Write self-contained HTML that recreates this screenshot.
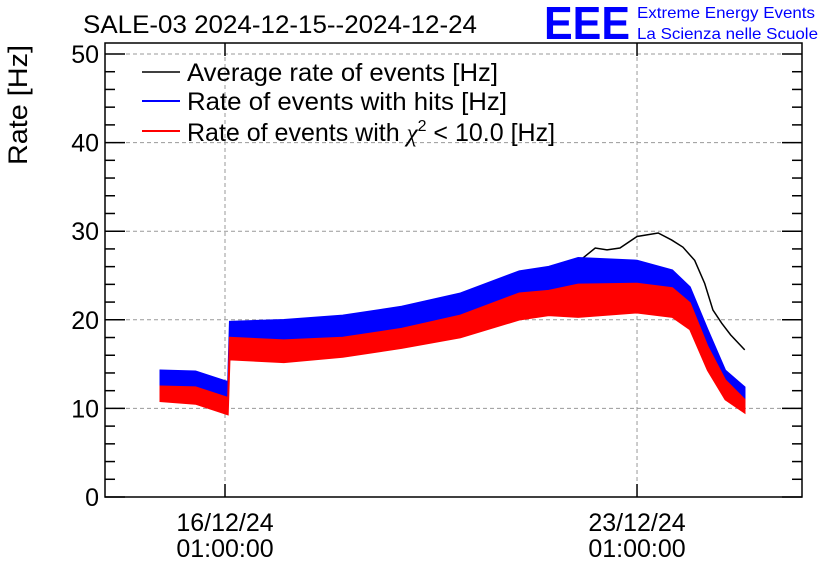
<!DOCTYPE html>
<html><head><meta charset="utf-8"><style>
body{margin:0;background:#fff;}
svg{display:block;font-family:"Liberation Sans",sans-serif;}
</style></head><body>
<svg id="chart" width="836" height="572" viewBox="0 0 836 572">
<rect width="836" height="572" fill="#fff"/>
<text x="83" y="33" font-size="25" textLength="394" lengthAdjust="spacingAndGlyphs">SALE-03 2024-12-15--2024-12-24</text>
<text x="544" y="39" font-size="46" font-weight="bold" fill="#0000ff" textLength="86" lengthAdjust="spacingAndGlyphs">EEE</text>
<text x="637" y="18" font-size="16" fill="#0000ff" textLength="178" lengthAdjust="spacingAndGlyphs">Extreme Energy Events</text>
<text x="637" y="39" font-size="16" fill="#0000ff" textLength="181" lengthAdjust="spacingAndGlyphs">La Scienza nelle Scuole</text>
<text transform="translate(27,105) rotate(-90)" text-anchor="middle" font-size="27" textLength="120" lengthAdjust="spacingAndGlyphs">Rate [Hz]</text>
<g id="grid"></g>
<g id="series"></g>
<g id="axes"></g>
<g>
<line x1="142" y1="72" x2="180" y2="72" stroke="#000" stroke-width="1.5"/>
<text x="187" y="81" font-size="25" textLength="311" lengthAdjust="spacingAndGlyphs">Average rate of events [Hz]</text>
<line x1="142" y1="101" x2="180" y2="101" stroke="#0000ff" stroke-width="2"/>
<text x="187" y="110" font-size="25" textLength="320" lengthAdjust="spacingAndGlyphs">Rate of events with hits [Hz]</text>
<line x1="142" y1="131" x2="180" y2="131" stroke="#ff0000" stroke-width="2"/>
<text x="187" y="141" font-size="25">Rate of events with <tspan font-family="Liberation Serif" font-style="italic">χ</tspan><tspan dy="-10" font-size="16">2</tspan><tspan dy="10"> &lt; 10.0 [Hz]</tspan></text>
</g>
</svg>
<script>
// time in days relative to 16/12/24 01:00:00
const bandTimes = [-1.1,-0.5,0.05,0.08,1,2,3,4,5,5.5,6,7,7.6,7.9,8.2,8.5,8.83];
const hitsLow  = [12.5,12.3,11,17.5,17.7,18,19,20.5,22.5,23,23.7,23.4,22.5,20.5,16.5,12.8,10.8];
const hitsHigh = [14.3,14.2,13,19.8,20,20.5,21.5,23,25.5,26,27,26.7,25.6,23.7,18.9,14.3,12.4];
const chi2Low  = [10.8,10.5,9.3,15.5,15.2,15.8,16.8,18,20,20.5,20.3,20.8,20.3,18.9,14.3,11,9.5];
const chi2High = [12.5,12.4,11.2,18,17.7,18,19,20.5,23,23.3,24,24.1,23.6,21.9,17,13.2,11];
const avgTimes = [6.03,6.29,6.49,6.71,7.0,7.36,7.59,7.78,7.98,8.15,8.29,8.44,8.59,8.83];
const avgValues = [26.7,28.1,27.9,28.1,29.4,29.8,29,28.2,26.7,24.1,21.1,19.6,18.3,16.6];
const yTicks = [0,10,20,30,40,50];
const xMajorTimes = [0,7];
const xLabels1 = ["16/12/24","23/12/24"];
const xLabels2 = ["01:00:00","01:00:00"];

const L=105,R=802,T=43,B=497;
const X=t=>225+58.86*t;
const Y=v=>B-8.86*v;
const NS="http://www.w3.org/2000/svg";
function mk(parent,tag,attrs){const e=document.createElementNS(NS,tag);for(const k in attrs)e.setAttribute(k,attrs[k]);document.getElementById(parent).appendChild(e);return e;}

yTicks.forEach(v=>{if(v===0)return;
 const g=mk('grid','line',{x1:L,x2:R,y1:Y(v),y2:Y(v),stroke:'#999','stroke-dasharray':'4,3','stroke-width':1});
 
 
});
xMajorTimes.forEach(t=>{
 const g=mk('grid','line',{x1:X(t),x2:X(t),y1:T,y2:B,stroke:'#999','stroke-dasharray':'4,3','stroke-width':1});
 
 
});

function band(lo,hi,color,name){
 let pts=bandTimes.map((t,i)=>X(t)+','+Y(hi[i]));
 for(let i=bandTimes.length-1;i>=0;i--)pts.push(X(bandTimes[i])+','+Y(lo[i]));
 const p=mk('series','polygon',{points:pts.join(' '),fill:color,stroke:color,'stroke-width':1.5});
 
 
}
const avg=mk('series','polyline',{points:avgTimes.map((t,i)=>X(t)+','+Y(avgValues[i])).join(' '),fill:'none',stroke:'#000','stroke-width':1.5});


band(hitsLow,hitsHigh,'#0000ff','hits-rate-band');
band(chi2Low,chi2High,'#ff0000','chi2-rate-band');

const fr=mk('axes','rect',{x:L,y:T,width:R-L,height:B-T,fill:'none',stroke:'#000','stroke-width':1.5});


for(let v=0;v<=50;v+=2){
 const len=(v%10===0)?20:10;
 mk('axes','line',{x1:L,x2:L+len,y1:Y(v),y2:Y(v),stroke:'#000','stroke-width':1.5});
 mk('axes','line',{x1:R,x2:R-len,y1:Y(v),y2:Y(v),stroke:'#000','stroke-width':1.5});
}
yTicks.forEach(v=>{
 const t=mk('axes','text',{x:L-6,y:Y(v)+9,'text-anchor':'end','font-size':25});
 t.textContent=v;
 
 
});
xMajorTimes.forEach(d=>{
 const x=X(d);
 mk('axes','line',{x1:x,x2:x,y1:B,y2:B-13,stroke:'#000','stroke-width':1.5});
 mk('axes','line',{x1:x,x2:x,y1:T,y2:T+13,stroke:'#000','stroke-width':1.5});
});
xMajorTimes.forEach((d,i)=>{
 const a=mk('axes','text',{x:X(d),y:531,'text-anchor':'middle','font-size':25});
 a.textContent=xLabels1[i];
 
 
 const b=mk('axes','text',{x:X(d),y:557,'text-anchor':'middle','font-size':25});
 b.textContent=xLabels2[i];
 
 
});
</script>
</body></html>
